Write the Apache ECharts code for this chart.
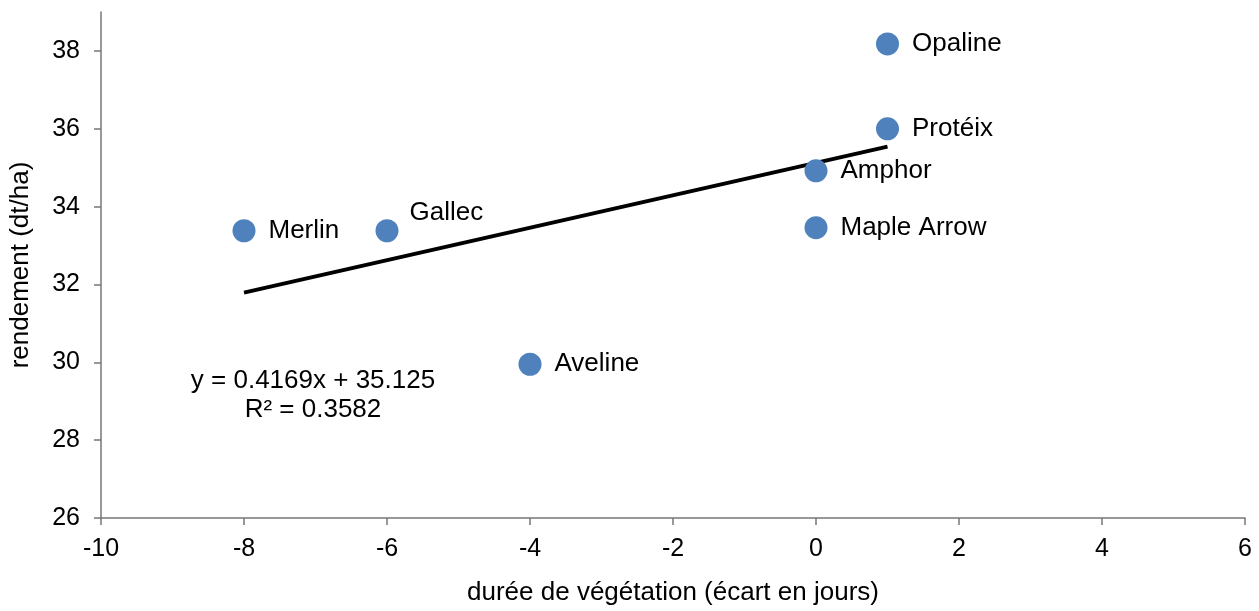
<!DOCTYPE html>
<html>
<head>
<meta charset="utf-8">
<script src="https://cdn.jsdelivr.net/npm/echarts@6/dist/echarts.min.js"></script>
<style>html,body{margin:0;padding:0;background:#fff}#c{width:1259px;height:611px}</style>
</head>
<body>
<div id="c"></div>
<script>
const names = ['Opaline', 'Protéix', 'Amphor', 'Maple Arrow', 'Merlin', 'Gallec', 'Aveline'];
const xValues = [1, 1, 0, 0, -8, -6, -4];
const yValues = [38.18, 36.0, 34.92, 33.46, 33.38, 33.38, 29.95];
const slope = 0.4169, intercept = 35.125, r2 = 0.3582;
const trendX = [-8, 1];
const xTicks = [-10, -8, -6, -4, -2, 0, 2, 4, 6];
const yTicks = [26, 28, 30, 32, 34, 36, 38];

const font = "'Liberation Sans', Arial, sans-serif";
const fsTick = 25, fs = 26;
const chart = echarts.init(document.getElementById('c'));
const points = names.map((n, i) => {
  const p = { value: [xValues[i], yValues[i]], name: n };
  if (n === 'Gallec') p.label = { offset: [-2, -18] };
  return p;
});
chart.setOption({
  animation: false,
  textStyle: { fontFamily: font, color: '#000' },
  grid: { left: 101, right: 14, top: 12, bottom: 93 },
  xAxis: {
    type: 'value', min: -10, max: 6, interval: 2,
    name: 'durée de végétation (écart en jours)', nameLocation: 'middle', nameGap: 62,
    nameTextStyle: { fontFamily: font, fontSize: fs, color: '#000' },
    axisLine: { show: true, onZero: false, lineStyle: { color: '#777', width: 1.5 } },
    axisTick: { show: true, length: 7, lineStyle: { color: '#777', width: 1.5 } },
    axisLabel: { fontFamily: font, fontSize: fsTick, color: '#000', margin: 19,
      formatter: v => (xTicks.indexOf(v) >= 0 ? String(v) : '') },
    splitLine: { show: false }
  },
  yAxis: {
    type: 'value', min: 26, max: 39, interval: 2,
    name: 'rendement (dt/ha)', nameLocation: 'middle', nameGap: 67,
    nameTextStyle: { fontFamily: font, fontSize: fs, color: '#000' },
    axisLine: { show: true, onZero: false, lineStyle: { color: '#777', width: 1.5 } },
    axisTick: { show: true, length: 7, lineStyle: { color: '#777', width: 1.5 } },
    axisLabel: { fontFamily: font, fontSize: fsTick, color: '#000', margin: 21,
      showMaxLabel: false, formatter: v => (yTicks.indexOf(v) >= 0 ? String(v) : '') },
    splitLine: { show: false }
  },
  series: [
    {
      type: 'line', data: trendX.map(x => [x, slope * x + intercept]),
      symbol: 'none', lineStyle: { color: '#000', width: 4 }, z: 1, silent: true
    },
    {
      type: 'scatter', data: points, symbolSize: 23,
      itemStyle: { color: '#4f81bd', opacity: 1 }, z: 3,
      label: { show: true, position: 'right', distance: 13, formatter: '{b}',
        fontFamily: font, fontSize: fs, color: '#000', textBorderWidth: 0 }
    }
  ],
  graphic: [
    { type: 'text', x: 313, y: 381,
      style: { text: 'y = ' + slope + 'x + ' + intercept, fontFamily: font, fontSize: fs,
        fill: '#000', align: 'center', verticalAlign: 'middle' } },
    { type: 'text', x: 313, y: 410,
      style: { text: 'R² = ' + r2, fontFamily: font, fontSize: fs,
        fill: '#000', align: 'center', verticalAlign: 'middle' } }
  ]
});
</script>
</body>
</html>
